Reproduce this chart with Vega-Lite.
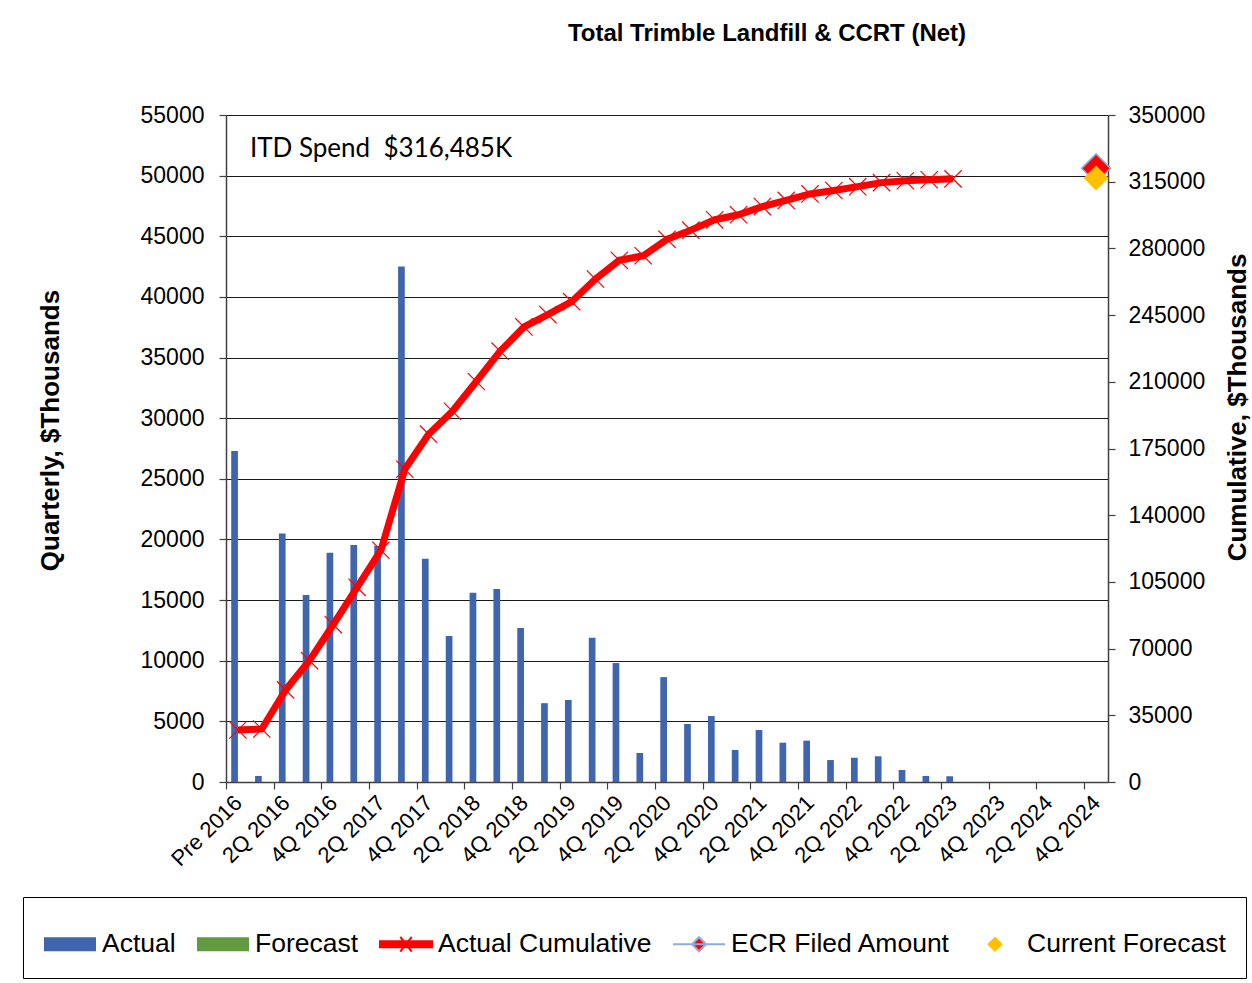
{
  "$schema": "https://vega.github.io/schema/vega-lite/v6.json",
  "width": 882,
  "height": 667,
  "autosize": {"type": "none"},
  "padding": {"left": 226, "top": 115, "right": 144, "bottom": 201},
  "background": "white",
  "title": {
    "text": "Total Trimble Landfill & CCRT (Net)",
    "font": "Liberation Sans",
    "fontSize": 24,
    "fontWeight": "bold",
    "color": "black",
    "anchor": "middle",
    "frame": "group",
    "dx": 100,
    "offset": 39,
    "baseline": "alphabetic"
  },
  "datasets": {
    "q": [
      {"idx": 0, "quarter": "Pre 2016", "series": "Actual", "value": 27300, "cumulative": 27300},
      {"idx": 1, "quarter": "1Q 2016", "series": "Actual", "value": 500, "cumulative": 27800},
      {"idx": 2, "quarter": "2Q 2016", "series": "Actual", "value": 20500, "cumulative": 48300},
      {"idx": 3, "quarter": "3Q 2016", "series": "Actual", "value": 15420, "cumulative": 63720},
      {"idx": 4, "quarter": "4Q 2016", "series": "Actual", "value": 18900, "cumulative": 82620},
      {"idx": 5, "quarter": "1Q 2017", "series": "Actual", "value": 19540, "cumulative": 102160},
      {"idx": 6, "quarter": "2Q 2017", "series": "Actual", "value": 19460, "cumulative": 121620},
      {"idx": 7, "quarter": "3Q 2017", "series": "Actual", "value": 42500, "cumulative": 164120},
      {"idx": 8, "quarter": "4Q 2017", "series": "Actual", "value": 18400, "cumulative": 182520},
      {"idx": 9, "quarter": "1Q 2018", "series": "Actual", "value": 12040, "cumulative": 194560},
      {"idx": 10, "quarter": "2Q 2018", "series": "Actual", "value": 15600, "cumulative": 210160},
      {"idx": 11, "quarter": "3Q 2018", "series": "Actual", "value": 15920, "cumulative": 226080},
      {"idx": 12, "quarter": "4Q 2018", "series": "Actual", "value": 12700, "cumulative": 238780},
      {"idx": 13, "quarter": "1Q 2019", "series": "Actual", "value": 6500, "cumulative": 245280},
      {"idx": 14, "quarter": "2Q 2019", "series": "Actual", "value": 6760, "cumulative": 252040},
      {"idx": 15, "quarter": "3Q 2019", "series": "Actual", "value": 11900, "cumulative": 263940},
      {"idx": 16, "quarter": "4Q 2019", "series": "Actual", "value": 9810, "cumulative": 273750},
      {"idx": 17, "quarter": "1Q 2020", "series": "Actual", "value": 2390, "cumulative": 276140},
      {"idx": 18, "quarter": "2Q 2020", "series": "Actual", "value": 8650, "cumulative": 284790},
      {"idx": 19, "quarter": "3Q 2020", "series": "Actual", "value": 4780, "cumulative": 289570},
      {"idx": 20, "quarter": "4Q 2020", "series": "Actual", "value": 5440, "cumulative": 295010},
      {"idx": 21, "quarter": "1Q 2021", "series": "Actual", "value": 2640, "cumulative": 297650},
      {"idx": 22, "quarter": "2Q 2021", "series": "Actual", "value": 4290, "cumulative": 301940},
      {"idx": 23, "quarter": "3Q 2021", "series": "Actual", "value": 3240, "cumulative": 305180},
      {"idx": 24, "quarter": "4Q 2021", "series": "Actual", "value": 3410, "cumulative": 308590},
      {"idx": 25, "quarter": "1Q 2022", "series": "Actual", "value": 1810, "cumulative": 310400},
      {"idx": 26, "quarter": "2Q 2022", "series": "Actual", "value": 2000, "cumulative": 312400},
      {"idx": 27, "quarter": "3Q 2022", "series": "Actual", "value": 2120, "cumulative": 314520},
      {"idx": 28, "quarter": "4Q 2022", "series": "Actual", "value": 990, "cumulative": 315510},
      {"idx": 29, "quarter": "1Q 2023", "series": "Actual", "value": 500, "cumulative": 316010},
      {"idx": 30, "quarter": "2Q 2023", "series": "Actual", "value": 475, "cumulative": 316485}
    ]
  },
  "encoding": {
    "x": {
      "field": "quarter",
      "type": "nominal",
      "scale": {
        "domain": ["Pre 2016","1Q 2016","2Q 2016","3Q 2016","4Q 2016","1Q 2017","2Q 2017","3Q 2017","4Q 2017","1Q 2018","2Q 2018","3Q 2018","4Q 2018","1Q 2019","2Q 2019","3Q 2019","4Q 2019","1Q 2020","2Q 2020","3Q 2020","4Q 2020","1Q 2021","2Q 2021","3Q 2021","4Q 2021","1Q 2022","2Q 2022","3Q 2022","4Q 2022","1Q 2023","2Q 2023","3Q 2023","4Q 2023","1Q 2024","2Q 2024","3Q 2024","4Q 2024"],
        "paddingInner": 0,
        "paddingOuter": 0
      },
      "axis": {
        "title": null,
        "values": ["Pre 2016","2Q 2016","4Q 2016","2Q 2017","4Q 2017","2Q 2018","4Q 2018","2Q 2019","4Q 2019","2Q 2020","4Q 2020","2Q 2021","4Q 2021","2Q 2022","4Q 2022","2Q 2023","4Q 2023","2Q 2024","4Q 2024"],
        "labelAngle": -45,
        "labelAlign": "right",
        "labelBaseline": "middle",
        "labelFontSize": 22,
        "labelPadding": 10,
        "labelOverlap": false,
        "tickSize": 7,
        "tickOffset": -11.92,
        "labelOffset": 11.92,
        "grid": false
      }
    }
  },
  "layer": [
    {
      "data": {"name": "q"},
      "layer": [
        {
          "mark": {"type": "bar", "color": "#3F65AF"},
          "encoding": {
            "xOffset": {
              "field": "series",
              "type": "nominal",
              "scale": {"domain": ["Actual", "Forecast"], "paddingInner": 0, "paddingOuter": 0.779}
            },
            "y": {
              "field": "value",
              "type": "quantitative",
              "scale": {"domain": [0, 55000], "nice": false},
              "axis": {
                "orient": "left",
                "title": "Quarterly, $Thousands",
                "values": [0,5000,10000,15000,20000,25000,30000,35000,40000,45000,50000,55000],
                "format": "d",
                "grid": true,
                "gridColor": "#1a1a1a",
                "labelFontSize": 23,
                "labelPadding": 15,
                "tickSize": 7,
                "titleFontSize": 26,
                "titleFontWeight": "bold",
                "titleAngle": 270,
                "titleX": -176,
                "titleY": 315,
                "titleAlign": "center",
                "titleBaseline": "middle"
              }
            }
          }
        },
        {
          "data": {"values": [{"quarter": "Pre 2016", "value": 51560, "note": "ITD Spend\u00a0 $316,485K"}]},
          "mark": {"type": "text", "align": "left", "baseline": "alphabetic", "dx": 12, "font": "Lato", "fontSize": 26, "color": "black"},
          "encoding": {
            "y": {"field": "value", "type": "quantitative"},
            "text": {"field": "note"}
          }
        }
      ]
    },
    {
      "data": {"name": "q"},
      "layer": [
        {
          "mark": {"type": "line", "color": "#FF0000", "strokeWidth": 7, "strokeJoin": "round"},
          "encoding": {
            "y": {
              "field": "cumulative",
              "type": "quantitative",
              "scale": {"domain": [0, 350000], "nice": false},
              "axis": {
                "orient": "right",
                "title": "Cumulative, $Thousands",
                "values": [0,35000,70000,105000,140000,175000,210000,245000,280000,315000,350000],
                "format": "d",
                "grid": false,
                "labelFontSize": 23,
                "labelPadding": 13,
                "tickSize": 7,
                "titleFontSize": 26,
                "titleFontWeight": "bold",
                "titleAngle": 270,
                "titleX": 129,
                "titleY": 292,
                "titleAlign": "center",
                "titleBaseline": "middle"
              }
            },
            "order": {"field": "idx", "type": "quantitative"}
          }
        },
        {
          "mark": {"type": "point", "shape": "M-1,-1L1,1M-1,1L1,-1", "filled": false, "color": "#FF0000", "strokeWidth": 1.2, "size": 300, "opacity": 1},
          "encoding": {
            "y": {"field": "cumulative", "type": "quantitative"}
          }
        },
        {
          "data": {"values": [{"quarter": "4Q 2024", "cumulative": 322000}]},
          "mark": {"type": "point", "shape": "diamond", "filled": true, "fill": "#FF0000", "stroke": "#8FAADC", "strokeWidth": 1.5, "size": 841, "opacity": 1},
          "encoding": {
            "y": {"field": "cumulative", "type": "quantitative"}
          }
        },
        {
          "data": {"values": [{"quarter": "4Q 2024", "cumulative": 317000}]},
          "mark": {"type": "point", "shape": "diamond", "filled": true, "fill": "#FFC000", "strokeWidth": 0, "size": 625, "opacity": 1},
          "encoding": {
            "y": {"field": "cumulative", "type": "quantitative"}
          }
        },
        {
          "data": {"values": [{"quarter": "4Q 2024", "cumulative": 322000, "series": "ECR Filed Amount"}]},
          "mark": {"type": "point", "filled": true, "opacity": 0},
          "encoding": {
            "y": {"field": "cumulative", "type": "quantitative"},
            "color": {
              "field": "series",
              "type": "nominal",
              "scale": {
                "domain": ["Actual", "Forecast", "Actual Cumulative", "ECR Filed Amount", "Current Forecast"],
                "range": ["#3F65AF", "#619A3F", "#FF0000", "#FF0000", "#FFC000"]
              },
              "legend": {
                "title": null,
                "orient": "none",
                "legendX": -203,
                "legendY": 782,
                "direction": "horizontal",
                "columns": 5,
                "symbolSize": 2704,
                "symbolOpacity": 1,
                "symbolStrokeWidth": 2,
                "labelFont": "Liberation Sans",
                "labelFontSize": 26.5,
                "labelColor": "black",
                "labelLimit": 400,
                "labelOffset": 5,
                "columnPadding": 17,
                "padding": 20,
                "strokeColor": "#000000",
                "fillColor": "white"
              }
            },
            "shape": {
              "field": "series",
              "type": "nominal",
              "scale": {
                "domain": ["Actual", "Forecast", "Actual Cumulative", "ECR Filed Amount", "Current Forecast"],
                "range": [
                  "M-1,-0.27L1,-0.27L1,0.27L-1,0.27Z",
                  "M-1,-0.27L1,-0.27L1,0.27L-1,0.27Z",
                  "M-1,-0.12L1,-0.12L1,0.12L-1,0.12Z M-0.22,-0.28L0.22,0.28 M-0.22,0.28L0.22,-0.28",
                  "M-1,0L1,0 M0,-0.27L0.27,0L0,0.27L-0.27,0Z",
                  "M0,-0.3L0.3,0L0,0.3L-0.3,0Z"
                ]
              },
              "legend": {
                "title": null,
                "orient": "none",
                "legendX": -203,
                "legendY": 782,
                "direction": "horizontal",
                "columns": 5,
                "symbolSize": 2704,
                "symbolOpacity": 1,
                "symbolStrokeWidth": 2,
                "labelFont": "Liberation Sans",
                "labelFontSize": 26.5,
                "labelColor": "black",
                "labelLimit": 400,
                "labelOffset": 5,
                "columnPadding": 17,
                "padding": 20,
                "strokeColor": "#000000",
                "fillColor": "white"
              }
            },
            "stroke": {
              "field": "series",
              "type": "nominal",
              "scale": {
                "domain": ["Actual", "Forecast", "Actual Cumulative", "ECR Filed Amount", "Current Forecast"],
                "range": ["transparent", "transparent", "#FF0000", "#8FAADC", "transparent"]
              },
              "legend": {
                "title": null,
                "orient": "none",
                "legendX": -203,
                "legendY": 782,
                "direction": "horizontal",
                "columns": 5,
                "symbolSize": 2704,
                "symbolOpacity": 1,
                "symbolStrokeWidth": 2,
                "labelFont": "Liberation Sans",
                "labelFontSize": 26.5,
                "labelColor": "black",
                "labelLimit": 400,
                "labelOffset": 5,
                "columnPadding": 17,
                "padding": 20,
                "strokeColor": "#000000",
                "fillColor": "white"
              }
            }
          }
        }
      ]
    }
  ],
  "resolve": {"scale": {"y": "independent"}},
  "config": {
    "font": "Liberation Sans",
    "view": {"stroke": "#8c8c8c"},
    "axis": {
      "labelFont": "Liberation Sans",
      "titleFont": "Liberation Sans",
      "labelColor": "black",
      "titleColor": "black",
      "domainColor": "#404040",
      "tickColor": "#404040",
      "domainWidth": 1.5,
      "tickWidth": 1.2
    }
  }
}
